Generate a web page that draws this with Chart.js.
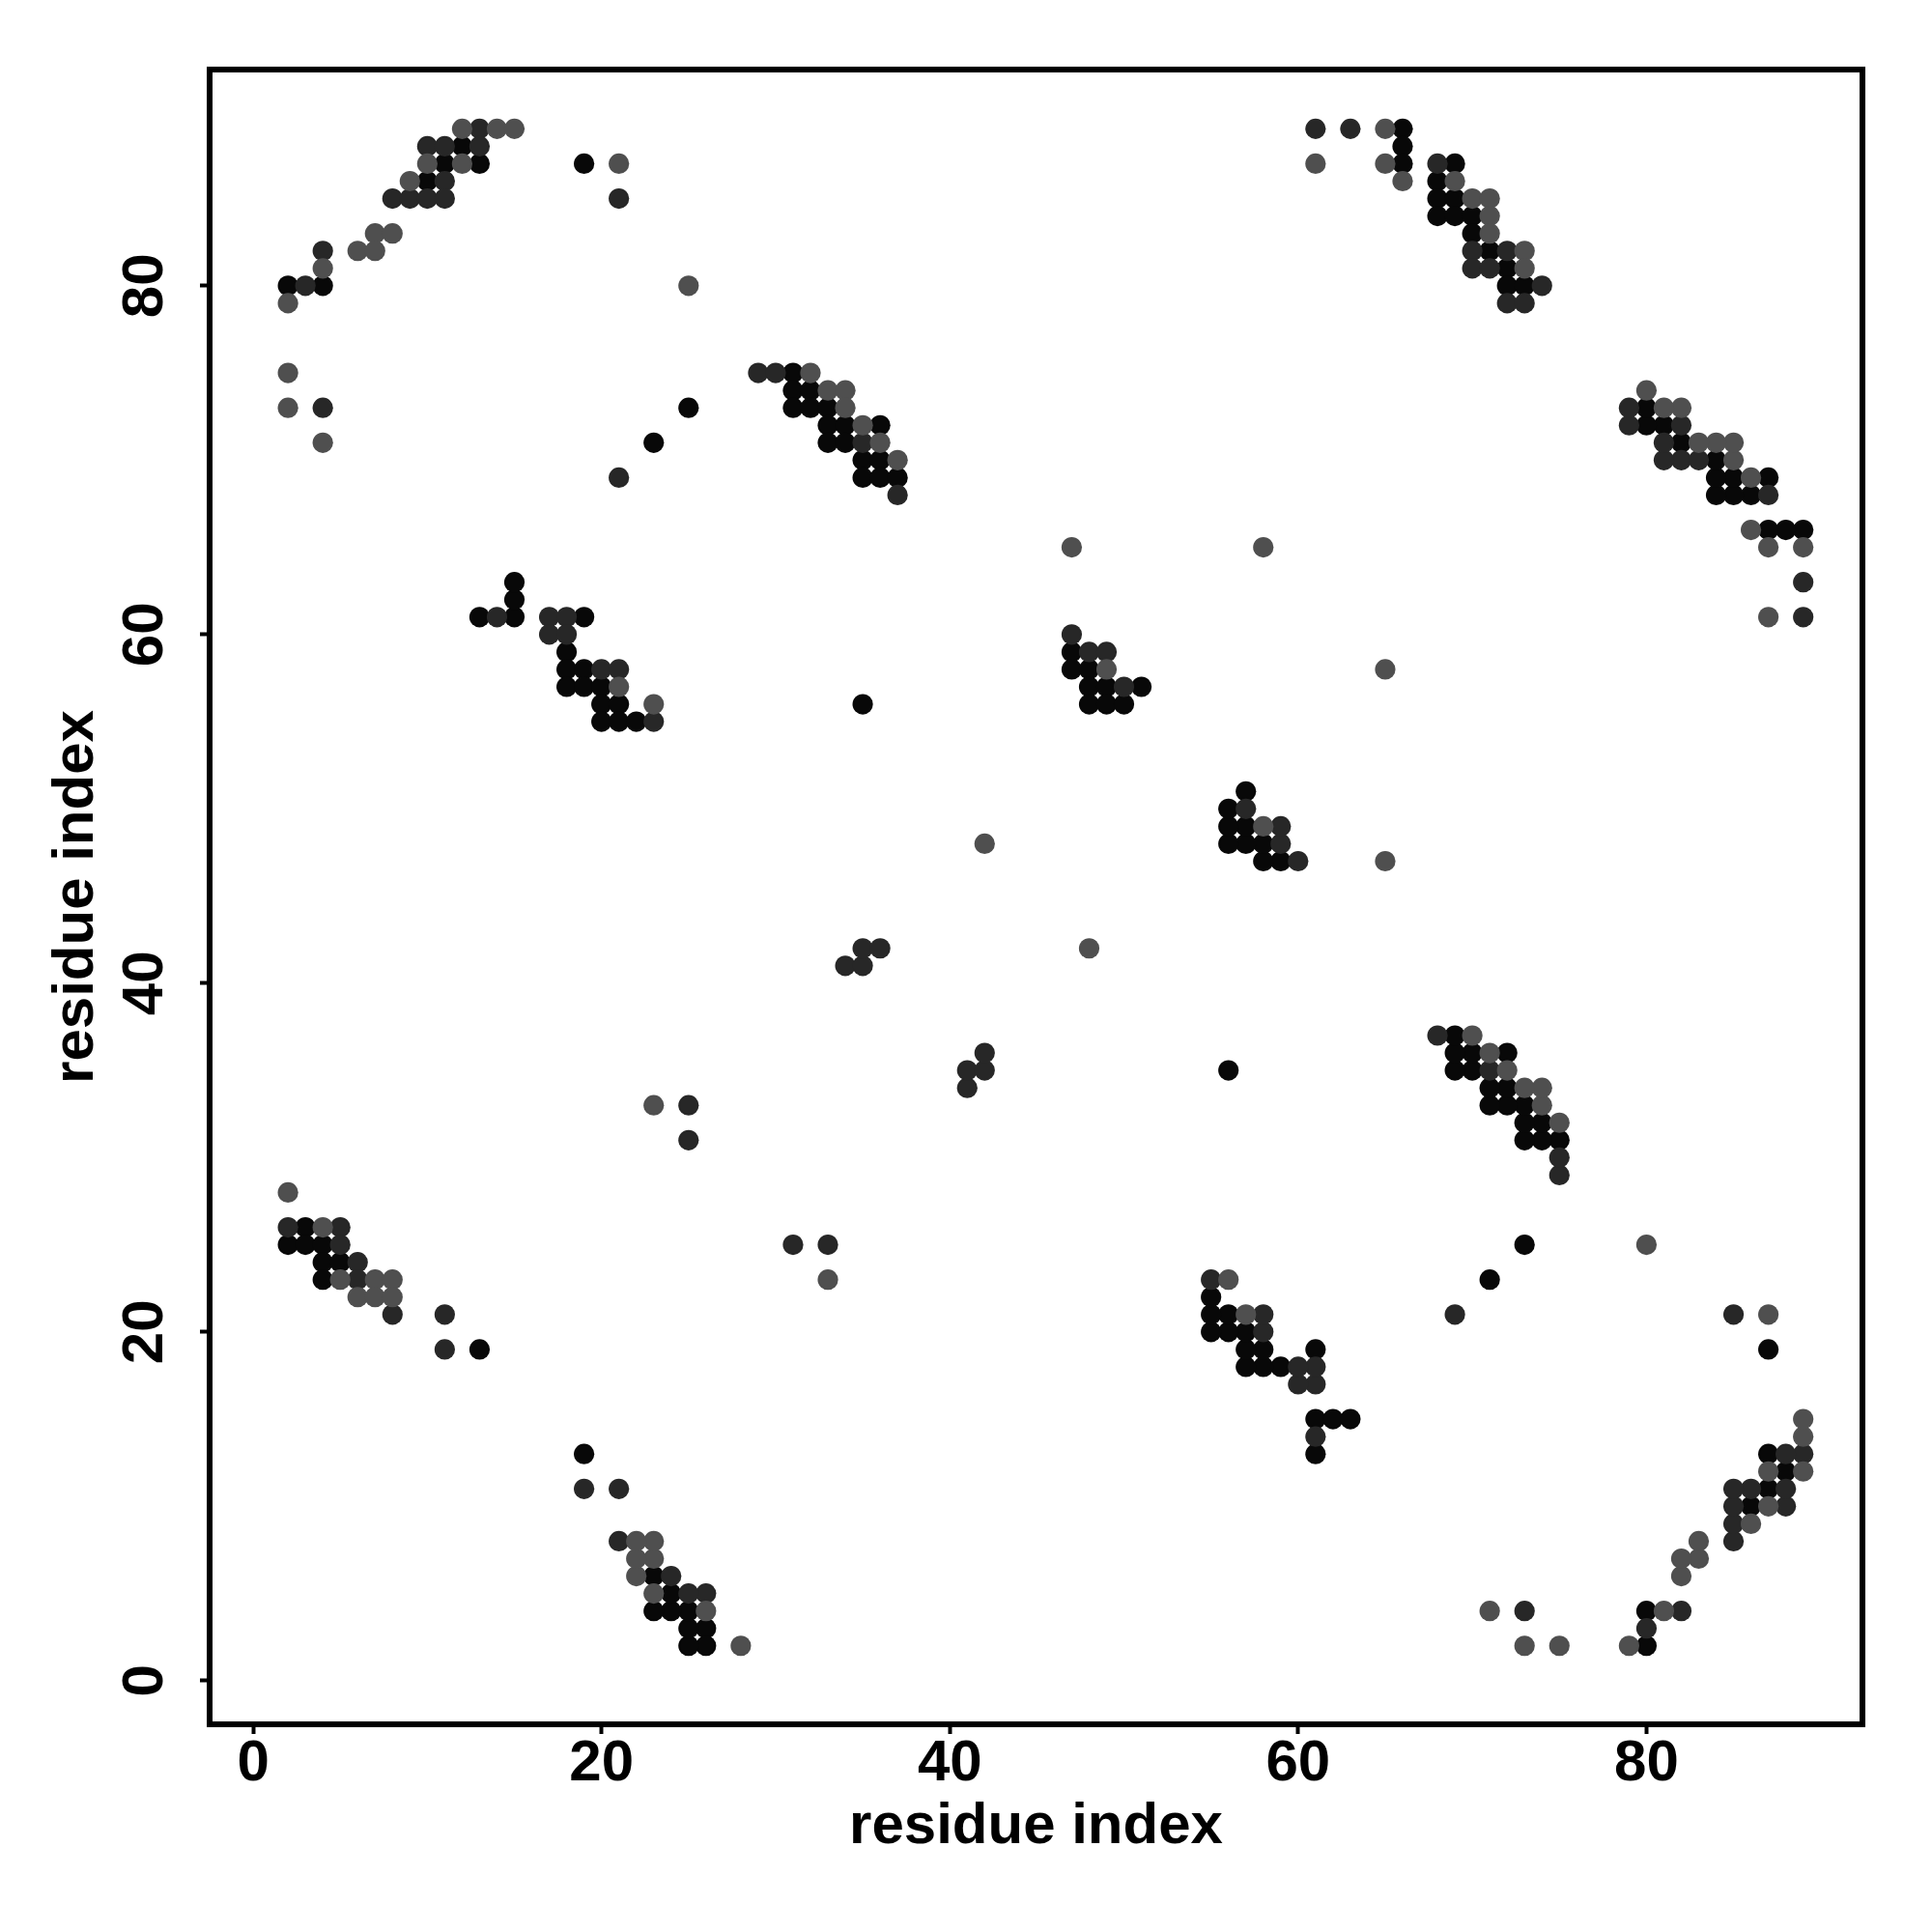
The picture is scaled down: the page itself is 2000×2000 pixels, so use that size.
<!DOCTYPE html>
<html>
<head>
<meta charset="utf-8">
<script src="https://cdn.jsdelivr.net/npm/chart.js@4.4.1/dist/chart.umd.min.js"></script>
<style>
  html, body { margin: 0; padding: 0; background: #ffffff; }
  #wrap { width: 2000px; height: 2000px; }
</style>
</head>
<body>
<div id="wrap"><canvas id="c" width="2000" height="2000"></canvas></div>
<script>
// ---- data: contact pairs [i, j], grouped by shade ----
const blackContacts = [
  [12,88],[11,87],[13,87],[10,86],[2,80],[4,80],[19,87],[25,73],[23,71],
  [88,12],[87,11],[87,13],[86,10],[80,2],[80,4],[87,19],[73,25],[71,23],
  [31,75],[31,74],[32,74],[31,73],[32,73],[33,73],[33,72],[34,72],[36,72],[33,71],[34,71],[35,70],[36,70],[35,69],[36,69],[37,69],
  [75,31],[74,31],[74,32],[73,31],[73,32],[73,33],[72,33],[72,34],[72,36],[71,33],[71,34],[70,35],[70,36],[69,35],[69,36],[69,37],
  [66,89],[66,88],[66,87],[69,87],[68,86],[68,85],[69,85],[68,84],[69,84],[70,84],[70,83],[71,82],[72,81],[72,80],[73,80],
  [89,66],[88,66],[87,66],[87,69],[86,68],[85,68],[85,69],[84,68],[84,69],[84,70],[82,71],[81,72],[80,72],[80,73],
  [13,61],[15,61],[19,61],[15,62],[15,63],[18,59],[18,58],[19,58],[18,57],[19,57],[20,57],[20,56],[21,56],[20,55],[21,55],[22,55],
  [61,13],[61,15],[61,19],[62,15],[63,15],[59,18],[58,18],[58,19],[57,18],[57,19],[57,20],[56,20],[56,21],[55,20],[55,21],[55,22],
  [47,59],[47,58],[48,58],[48,57],[49,57],[51,57],[48,56],[49,56],[50,56],
  [59,47],[58,47],[58,48],[57,48],[57,49],[57,51],[56,48],[56,49],[56,50],
  [3,26],[2,25],[3,25],[4,25],[4,24],[5,24],[4,23],
  [26,3],[26,2],[25,2],[25,3],[25,4],[24,4],[24,5],[23,4],[23,6],
  [13,19],[19,13],[35,56],[56,35]
];
const darkContacts = [
  [13,89],[10,88],[11,88],[13,88],[11,86],[8,85],[9,85],[10,85],[11,85],[4,82],[3,80],[4,73],
  [21,85],[29,75],[21,69],
  [89,13],[88,10],[88,11],[88,13],[86,11],[85,8],[85,9],[85,10],[85,11],[82,4],[80,3],[73,4],[85,21],[75,29],[69,21],
  [30,75],[35,71],[37,68],[75,30],[71,35],[68,37],
  [61,89],[63,89],[68,87],[70,82],[72,82],[70,81],[71,81],[74,80],[72,79],[73,79],
  [89,61],[89,63],[87,68],[82,70],[82,72],[81,70],[81,71],[79,72],[79,73],[83,70],
  [14,61],[17,61],[18,61],[17,60],[18,60],[20,58],[21,58],[23,55],
  [61,14],[61,17],[61,18],[60,17],[60,18],[58,20],[58,21],[55,23],
  [47,60],[48,59],[49,59],[50,57],[60,47],[59,48],[59,49],[57,50],
  [2,26],[5,26],[5,25],[6,24],[6,23],[8,21],
  [26,5],[25,5],[24,6],[21,8],
  [11,21],[11,19],[21,11],[19,11],[25,33],[25,31],[33,25],[31,25],
  [34,41],[35,41],[35,42],[36,42],[41,34],[41,35],[42,35],[42,36]
];
const grayContacts = [
  [12,89],[14,89],[15,89],[10,87],[12,87],[9,86],[7,83],[8,83],[6,82],[7,82],[4,81],[2,79],[2,75],[2,73],[4,71],
  [21,87],[25,80],
  [89,12],[89,14],[89,15],[87,10],[87,12],[86,9],[83,7],[83,8],[82,6],[82,7],[81,4],[79,2],[75,2],[73,2],[71,4],
  [87,21],[80,25],
  [32,75],[33,74],[34,74],[34,73],[35,72],[36,71],[37,70],
  [75,32],[74,33],[74,34],[73,34],[72,35],[71,36],[70,37],
  [65,89],[61,87],[65,87],[66,86],[69,86],[70,85],[71,85],[71,84],[71,83],[73,82],[73,81],
  [89,65],[87,61],[87,65],[86,66],[86,69],[85,70],[85,71],[84,71],[83,71],[82,73],[81,73],[80,74],
  [21,57],[23,56],[57,21],[56,23],
  [49,58],[58,49],
  [2,28],[4,26],[5,23],[7,23],[8,23],[6,22],[7,22],[8,22],
  [28,2],[26,4],[23,5],[23,7],[23,8],[22,6],[22,7],[22,8],
  [23,33],[33,23],[42,48],[48,42],[47,65],[65,47],[58,65],[65,58]
];
const xTickValues = [0, 20, 40, 60, 80];
const yTickValues = [0, 20, 40, 60, 80];
const axisTitle = 'residue index';

// ---- chart ----
const FONT = { family: '"Liberation Sans", Arimo, Helvetica, Arial, sans-serif', size: 60, weight: 'bold', lineHeight: 1 };

function toPoints(pairs) { return pairs.map(p => ({ x: p[0], y: p[1] })); }

function makeSet(pairs, color) {
  return {
    data: toPoints(pairs),
    backgroundColor: color,
    borderColor: color,
    borderWidth: 0,
    pointRadius: 10.6,
    pointHoverRadius: 10.6,
    pointStyle: 'circle'
  };
}

const frame = {
  id: 'frame',
  beforeDraw(chart) {
    const ctx = chart.ctx;
    ctx.save();
    ctx.fillStyle = '#ffffff';
    ctx.fillRect(0, 0, chart.width, chart.height);
    ctx.restore();
  },
  afterDraw(chart) {
    const a = chart.chartArea, ctx = chart.ctx;
    ctx.save();
    ctx.strokeStyle = '#000000';
    ctx.lineWidth = 6;
    ctx.strokeRect(a.left, a.top, a.right - a.left, a.bottom - a.top);
    ctx.restore();
  }
};

const gridOpts = {
  drawOnChartArea: false,
  drawTicks: true,
  tickLength: 10,
  tickWidth: 4,
  tickColor: '#000000'
};

new Chart(document.getElementById('c'), {
  type: 'scatter',
  data: {
    datasets: [
      makeSet(grayContacts, '#4f4f4f'),
      makeSet(darkContacts, '#272727'),
      makeSet(blackContacts, '#080808')
    ]
  },
  options: {
    responsive: false,
    devicePixelRatio: 1,
    animation: false,
    layout: { padding: { left: 0, right: 72, top: 72, bottom: 0 } },
    plugins: { legend: { display: false }, tooltip: { enabled: false } },
    scales: {
      x: {
        type: 'linear',
        position: 'bottom',
        min: -2.5,
        max: 92.4,
        afterBuildTicks: s => { s.ticks = xTickValues.map(v => ({ value: v })); },
        afterFit: s => { s.height = 215; },
        ticks: { font: FONT, color: '#000000', padding: 1, minRotation: 0, maxRotation: 0, autoSkip: false },
        grid: gridOpts,
        border: { display: false },
        title: { display: true, text: axisTitle, font: FONT, color: '#000000', padding: { top: 0, bottom: 79 } }
      },
      y: {
        type: 'linear',
        position: 'left',
        min: -2.5,
        max: 92.4,
        afterBuildTicks: s => { s.ticks = yTickValues.map(v => ({ value: v })); },
        afterFit: s => { s.width = 217; },
        ticks: { font: FONT, color: '#000000', padding: 22, minRotation: 90, maxRotation: 90, crossAlign: 'center', autoSkip: false },
        grid: gridOpts,
        border: { display: false },
        title: { display: true, text: axisTitle, font: FONT, color: '#000000', padding: { top: 49, bottom: 0 } }
      }
    }
  },
  plugins: [frame]
});
</script>
</body>
</html>
